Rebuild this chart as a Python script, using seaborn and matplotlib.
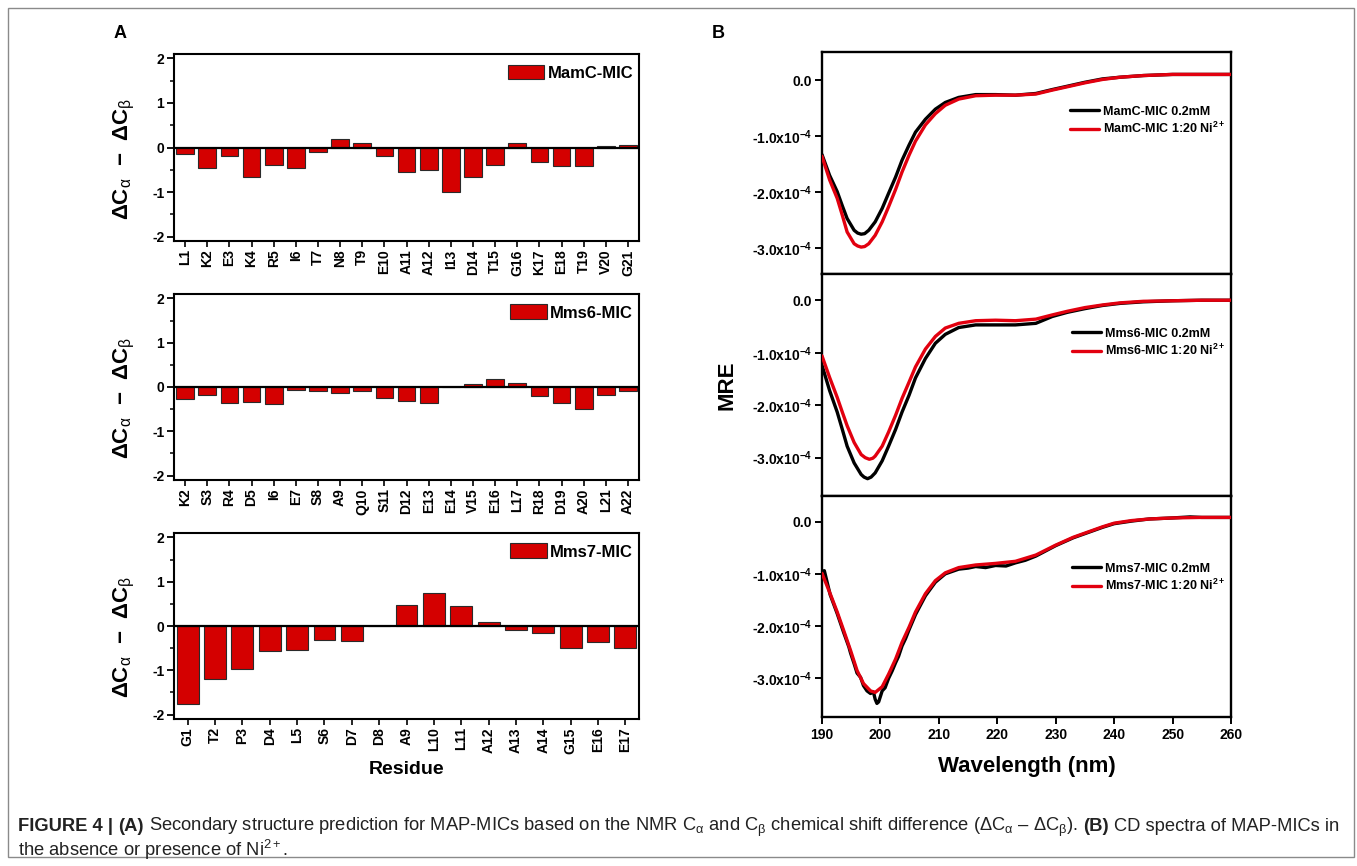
import matplotlib
matplotlib.use("Agg")
import matplotlib.pyplot as plt
import seaborn as sns
import pandas as pd
from matplotlib.patches import Patch, Rectangle
from matplotlib.ticker import MultipleLocator

# ---------------- data: panel A (ΔCα - ΔCβ) ----------------
mamc_res = ['L1', 'K2', 'E3', 'K4', 'R5', 'I6', 'T7', 'N8', 'T9', 'E10', 'A11',
            'A12', 'I13', 'D14', 'T15', 'G16', 'K17', 'E18', 'T19', 'V20', 'G21']
mamc_val = [-0.15, -0.45, -0.18, -0.67, -0.39, -0.45, -0.09, 0.19, 0.11, -0.20, -0.54,
            -0.50, -1.00, -0.66, -0.39, 0.09, -0.32, -0.41, -0.41, 0.03, 0.05]

mms6_res = ['K2', 'S3', 'R4', 'D5', 'I6', 'E7', 'S8', 'A9', 'Q10', 'S11', 'D12',
            'E13', 'E14', 'V15', 'E16', 'L17', 'R18', 'D19', 'A20', 'L21', 'A22']
mms6_val = [-0.28, -0.19, -0.37, -0.33, -0.38, -0.07, -0.10, -0.14, -0.10, -0.24, -0.32,
            -0.36, -0.01, 0.06, 0.17, 0.08, -0.20, -0.35, -0.50, -0.17, -0.10]

mms7_res = ['G1', 'T2', 'P3', 'D4', 'L5', 'S6', 'D7', 'D8', 'A9', 'L10', 'L11',
            'A12', 'A13', 'A14', 'G15', 'E16', 'E17']
mms7_val = [-1.77, -1.19, -0.96, -0.57, -0.54, -0.31, -0.33, 0.0, 0.47, 0.74, 0.45,
            0.09, -0.09, -0.16, -0.49, -0.37, -0.49]

# ---------------- data: panel B (MRE, in units of 1e-4) ----------------
mamc_wl = [190.0, 191.3, 192.6, 193.5, 194.3, 195.5, 196.1, 196.7, 197.3, 198.0, 199.1,
           200.3, 201.4, 202.6, 203.7, 204.9, 206.0, 207.7, 209.4, 211.1, 213.4, 216.3,
           219.7, 223.1, 226.6, 229.4, 232, 235, 238, 241, 245, 250, 255, 260]
mamc_free = [-1.33, -1.70, -1.99, -2.25, -2.47, -2.68, -2.73, -2.75, -2.74, -2.68, -2.53,
             -2.29, -2.02, -1.73, -1.43, -1.16, -0.93, -0.70, -0.52, -0.40, -0.31, -0.26,
             -0.26, -0.27, -0.24, -0.17, -0.11, -0.04, 0.02, 0.05, 0.08, 0.10, 0.10, 0.10]
mamc_ni = [-1.36, -1.78, -2.11, -2.42, -2.71, -2.92, -2.96, -2.98, -2.97, -2.92, -2.77,
           -2.53, -2.26, -1.95, -1.64, -1.34, -1.09, -0.80, -0.60, -0.45, -0.34, -0.28,
           -0.27, -0.27, -0.25, -0.18, -0.12, -0.05, 0.01, 0.05, 0.08, 0.10, 0.10, 0.10]

mms6_wl_free = [190.0, 191.3, 192.6, 193.5, 194.3, 195.5, 196.7, 197.2, 197.8, 198.4, 199.1,
                200.3, 201.4, 202.6, 203.7, 204.9, 206.0, 207.7, 209.4, 211.1, 213.4, 216.3,
                219.7, 223.1, 226.6, 229.4, 232, 235, 238, 241, 245, 250, 255, 260]
mms6_free = [-1.24, -1.72, -2.13, -2.47, -2.78, -3.10, -3.32, -3.37, -3.40, -3.37, -3.29,
             -3.06, -2.78, -2.46, -2.13, -1.81, -1.48, -1.11, -0.82, -0.65, -0.52, -0.47,
             -0.47, -0.47, -0.44, -0.31, -0.23, -0.16, -0.10, -0.06, -0.03, -0.01, 0.0, 0.0]
mms6_wl_ni = [190.0, 191.3, 192.6, 193.5, 194.3, 195.5, 196.7, 197.4, 198.1, 198.7, 199.1,
              200.3, 201.4, 202.6, 203.7, 204.9, 206.0, 207.7, 209.4, 211.1, 213.4, 216.3,
              219.7, 223.1, 226.6, 229.4, 232, 235, 238, 241, 245, 250, 255, 260]
mms6_ni = [-1.06, -1.47, -1.85, -2.14, -2.39, -2.71, -2.94, -3.00, -3.03, -3.01, -2.97,
           -2.78, -2.51, -2.19, -1.87, -1.56, -1.27, -0.93, -0.69, -0.53, -0.44, -0.39,
           -0.38, -0.39, -0.36, -0.28, -0.21, -0.14, -0.09, -0.05, -0.02, -0.01, 0.0, 0.0]

mms7_wl_free = [190.0, 190.4, 191.4, 192.6, 193.7, 194.6, 194.9, 195.5, 196.0, 196.6, 197.1,
                197.7, 198.3, 198.8, 199.1, 199.4, 199.7, 200.3, 200.8, 201.4, 202.0, 202.6,
                203.1, 203.7, 204.3, 204.9, 206.0, 207.7, 209.4, 211.1, 213.4, 215.0, 216.3,
                218.0, 219.7, 221.5, 223.1, 224.8, 226.6, 230, 233, 235, 238, 240, 243, 246,
                250, 253, 255, 260]
mms7_free = [-0.95, -0.94, -1.40, -1.76, -2.12, -2.40, -2.52, -2.72, -2.90, -2.98, -3.14,
             -3.24, -3.29, -3.26, -3.40, -3.48, -3.45, -3.24, -3.18, -3.00, -2.86, -2.70,
             -2.58, -2.38, -2.24, -2.07, -1.78, -1.42, -1.16, -1.00, -0.91, -0.89, -0.86,
             -0.88, -0.84, -0.85, -0.79, -0.74, -0.66, -0.46, -0.31, -0.23, -0.11, -0.04,
             0.01, 0.05, 0.07, 0.09, 0.08, 0.08]
mms7_wl_ni = [190.0, 191.4, 192.6, 193.7, 194.9, 196.0, 197.1, 198.3, 199.1, 200.3, 201.4,
              202.6, 203.7, 204.9, 206.0, 207.7, 209.4, 211.1, 213.4, 216.3, 219.7, 223.1,
              226.6, 230, 233, 235, 238, 240, 243, 246, 250, 255, 260]
mms7_ni = [-0.99, -1.38, -1.73, -2.08, -2.47, -2.85, -3.10, -3.24, -3.27, -3.16, -2.92,
           -2.63, -2.31, -2.02, -1.73, -1.38, -1.13, -0.98, -0.88, -0.83, -0.80, -0.76,
           -0.64, -0.45, -0.30, -0.22, -0.10, -0.03, 0.02, 0.05, 0.07, 0.08, 0.08]

ytick_vals_b = [0, -1, -2, -3]
ytick_labels_b = ['0.0', r'-1.0x10$^{\mathbf{-4}}$', r'-2.0x10$^{\mathbf{-4}}$', r'-3.0x10$^{\mathbf{-4}}$']
xtick_vals_b = [190, 200, 210, 220, 230, 240, 250, 260]

# ---------------- style ----------------
sns.set_theme(style="ticks")
plt.rcParams['font.family'] = ['Liberation Sans', 'DejaVu Sans']
plt.rcParams['mathtext.fontset'] = 'custom'
plt.rcParams['mathtext.rm'] = 'Liberation Sans'
plt.rcParams['mathtext.it'] = 'Liberation Sans'
plt.rcParams['mathtext.bf'] = 'Liberation Sans:bold'
for k in ['text.color', 'axes.labelcolor', 'xtick.color', 'ytick.color', 'axes.edgecolor']:
    plt.rcParams[k] = 'black'

BAR_RED = '#d40000'
LINE_RED = '#e2000f'
EDGE = '#2a2a2a'
W, H = 1357, 866

fig = plt.figure(figsize=(W / 100, H / 100), dpi=100)
fig.patch.set_facecolor('white')


def rect_px(x0, y0, x1, y1):
    return [x0 / W, 1 - y1 / H, (x1 - x0) / W, (y1 - y0) / H]


ylab_a = r'$\mathbf{\Delta C}_{\alpha}$  $\mathbf{-}$  $\mathbf{\Delta C}_{\beta}$'


def bar_panel(rect, res, vals, name, xlabel=None):
    ax = fig.add_axes(rect)
    df = pd.DataFrame({'Residue': res, 'val': vals})
    sns.barplot(data=df, x='Residue', y='val', order=res, color=BAR_RED, saturation=1,
                edgecolor=EDGE, linewidth=0.8, width=0.8, ax=ax)
    ax.axhline(0, color='black', lw=1.6, zorder=4)
    ax.set_xlim(-0.5, len(res) - 0.5)
    ax.set_ylim(-2.1, 2.1)
    ax.set_yticks([-2, -1, 0, 1, 2])
    ax.set_yticklabels(['-2', '-1', '0', '1', '2'])
    ax.yaxis.set_minor_locator(MultipleLocator(0.5))
    ax.tick_params(axis='y', which='major', length=5, width=1.3, labelsize=10, pad=2)
    ax.tick_params(axis='y', which='minor', length=3, width=1.1)
    ax.tick_params(axis='x', which='major', length=4, width=1.2, labelsize=10, rotation=90, pad=2)
    for lab in ax.get_xticklabels() + ax.get_yticklabels():
        lab.set_fontweight('bold')
    for s in ax.spines.values():
        s.set_linewidth(1.5)
        s.set_color('black')
    ax.set_ylabel(ylab_a, fontsize=16)
    ax.yaxis.set_label_coords(-0.08, 0.44)
    if xlabel:
        ax.set_xlabel(xlabel, fontsize=14, fontweight='bold', labelpad=5)
    else:
        ax.set_xlabel('')
    ax.legend(handles=[Patch(facecolor=BAR_RED, edgecolor=EDGE, linewidth=0.8)], labels=[name],
              loc='upper right', bbox_to_anchor=(1.0, 0.975), frameon=False,
              prop={'weight': 'bold', 'size': 12}, handlelength=2.2, handleheight=1.0,
              handletextpad=0.2, borderaxespad=0.15, borderpad=0.2)
    return ax


bar_panel(rect_px(174, 54, 639, 241), mamc_res, mamc_val, 'MamC-MIC')
bar_panel(rect_px(174, 294, 639, 480), mms6_res, mms6_val, 'Mms6-MIC')
bar_panel(rect_px(174, 533, 639, 719), mms7_res, mms7_val, 'Mms7-MIC', xlabel='Residue')


def cd_panel(rect, wl_f, v_f, wl_n, v_n, name, ylim, leg_y, bottom=False):
    ax = fig.add_axes(rect)
    sns.lineplot(x=wl_f, y=v_f, color='black', lw=2.4, ax=ax, sort=False, estimator=None,
                 label=f'{name} 0.2mM', zorder=3)
    sns.lineplot(x=wl_n, y=v_n, color=LINE_RED, lw=2.4, ax=ax, sort=False, estimator=None,
                 label=f'{name} 1:20 Ni' + r'$^{\mathbf{2+}}$', zorder=4)
    ax.set_xlim(190, 260)
    ax.set_ylim(*ylim)
    ax.set_yticks(ytick_vals_b)
    ax.set_yticklabels(ytick_labels_b)
    ax.set_xticks(xtick_vals_b)
    ax.tick_params(axis='y', length=5, width=1.4, labelsize=10, pad=2)
    if bottom:
        ax.tick_params(axis='x', length=5, width=1.4, labelsize=10, pad=3)
        ax.set_xlabel('Wavelength (nm)', fontsize=16, fontweight='bold', labelpad=10)
    else:
        ax.tick_params(axis='x', bottom=False, labelbottom=False)
        ax.set_xlabel('')
    ax.set_ylabel('')
    for lab in ax.get_xticklabels() + ax.get_yticklabels():
        lab.set_fontweight('bold')
    for s in ax.spines.values():
        s.set_linewidth(1.7)
        s.set_color('black')
    ax.legend(loc='center right', bbox_to_anchor=(0.985, leg_y), frameon=False,
              prop={'weight': 'bold', 'size': 9}, handlelength=2.3, handletextpad=0.3,
              labelspacing=0.25, borderaxespad=0.0, borderpad=0.0)
    return ax


cd_panel(rect_px(822, 52, 1231, 274), mamc_wl, mamc_free, mamc_wl, mamc_ni, 'MamC-MIC',
         (-3.46, 0.5), 0.69)
cd_panel(rect_px(822, 274, 1231, 496), mms6_wl_free, mms6_free, mms6_wl_ni, mms6_ni, 'Mms6-MIC',
         (-3.73, 0.5), 0.69)
cd_panel(rect_px(822, 496, 1231, 717), mms7_wl_free, mms7_free, mms7_wl_ni, mms7_ni, 'Mms7-MIC',
         (-3.74, 0.49), 0.63, bottom=True)

# panel letters and shared label
fig.text(120 / W, 1 - 34 / H, 'A', fontsize=13, fontweight='bold', ha='center', va='center')
fig.text(718 / W, 1 - 33 / H, 'B', fontsize=13, fontweight='bold', ha='center', va='center')
fig.text(727 / W, 1 - 385 / H, 'MRE', fontsize=16, fontweight='bold', rotation=90,
         ha='center', va='center')

# outer frame
fig.patches.append(Rectangle((8 / W, 1 - 857 / H), (1354 - 8) / W, (857 - 8) / H,
                             transform=fig.transFigure, fill=False, edgecolor='#8a8a8a', lw=1.0))

# caption
CAP_FAM = ['Liberation Sans', 'DejaVu Sans']
CAP_FS = 13.25
CAP_COL = '#222222'
renderer = fig.canvas.get_renderer()


def text_w(s, weight):
    t = fig.text(0, 0, s, fontsize=CAP_FS, fontweight=weight, family=CAP_FAM)
    w = t.get_window_extent(renderer).width
    t.remove()
    return w


space_w = text_w('a a', 'normal') - text_w('aa', 'normal')


def draw_line(y_px, segs, x_px=18):
    x = x_px
    for s, weight, gap in segs:
        t = fig.text(x / W, 1 - y_px / H, s, fontsize=CAP_FS, fontweight=weight,
                     family=CAP_FAM, color=CAP_COL, ha='left', va='baseline')
        x = x + t.get_window_extent(renderer).width + (space_w if gap else 0)


draw_line(831, [
    ('FIGURE 4 |', 'bold', True),
    ('(A)', 'bold', True),
    (r'Secondary structure prediction for MAP-MICs based on the NMR C$_{\alpha}$ and C$_{\beta}$ '
     r'chemical shift difference (ΔC$_{\alpha}$ – ΔC$_{\beta}$).', 'normal', True),
    ('(B)', 'bold', True),
    ('CD spectra of MAP-MICs in', 'normal', False),
])
draw_line(856, [(r'the absence or presence of Ni$^{2+}$.', 'normal', False)])

fig.savefig('out.png', dpi=100)
